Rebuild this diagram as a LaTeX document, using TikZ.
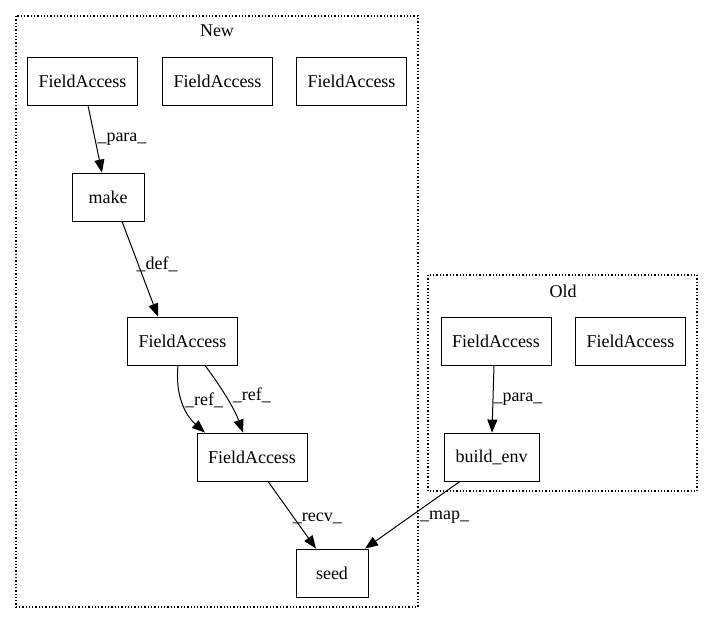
\documentclass[tikz,border=0pt]{standalone}
\usepackage{fontspec}
\setmainfont{Liberation Serif}
\usetikzlibrary{arrows.meta}
\begin{document}
\begin{tikzpicture}[x=1pt,y=-1pt,
  box/.style={draw,thick,minimum width=#1,minimum height=48pt,inner sep=0pt,font=\fontsize{18}{20}\selectfont},
  box/.default=110pt,
  clus/.style={draw,dotted,line width=1.3pt},
  edge/.style={-{Triangle[length=13pt,width=10pt]},line width=1pt},
  lbl/.style={font=\fontsize{18}{20}\selectfont,inner sep=0pt,anchor=west}]
\useasboundingbox (0,0) rectangle (713,624);
\draw[clus] (16,16) rectangle (418,607);
\node[font=\fontsize{18}{20}\selectfont] (newlbl) at (217,31) {New};
\draw[clus] (428,275) rectangle (697,491);
\node[font=\fontsize{18}{20}\selectfont] (oldlbl) at (563,291) {Old};

\node[box] (fa1) at (82.5,81) {FieldAccess};
\node[box] (fa2) at (217.5,81) {FieldAccess};
\node[box] (fa3) at (351.5,81) {FieldAccess};
\node[box=72pt] (make) at (108,197) {make};
\node[box] (fa4) at (182.5,341) {FieldAccess};
\node[box] (fa5) at (252,457) {FieldAccess};
\node[box=72pt] (seed) at (332,573) {seed};
\node[box] (ofa1) at (496,341) {FieldAccess};
\node[box] (ofa2) at (630.5,341) {FieldAccess};
\node[box=95pt] (benv) at (491.5,457) {build\_env};

\draw[edge] (fa1.south -| 88,0) -- (make.north -| 102,0) node[lbl,pos=0.5,xshift=2pt] {\_para\_};
\draw[edge] (make.south -| 122,0) -- (fa4.north -| 158,0) node[lbl,pos=0.45,xshift=-2pt] {\_def\_};
\draw[edge] (fa4.south -| 178,0) .. controls (175,395) and (185,415) .. (fa5.north -| 205,0) node[lbl,pos=0.45,xshift=3pt] {\_ref\_};
\draw[edge] (fa4.south -| 205,0) .. controls (222,388) and (235,410) .. (fa5.north -| 243,0) node[lbl,pos=0.45,xshift=7pt] {\_ref\_};
\draw[edge] (fa5.south -| 268,0) -- (seed.north -| 316,0) node[lbl,pos=0.55,xshift=-2pt] {\_recv\_};
\draw[edge] (benv.south -| 460,0) -- (seed.north -| 365,0) node[lbl,pos=0.53,xshift=10pt] {\_map\_};
\draw[edge] (ofa1.south -| 494,0) -- (benv.north -| 492,0) node[lbl,pos=0.5,xshift=0pt] {\_para\_};
\end{tikzpicture}
\end{document}
